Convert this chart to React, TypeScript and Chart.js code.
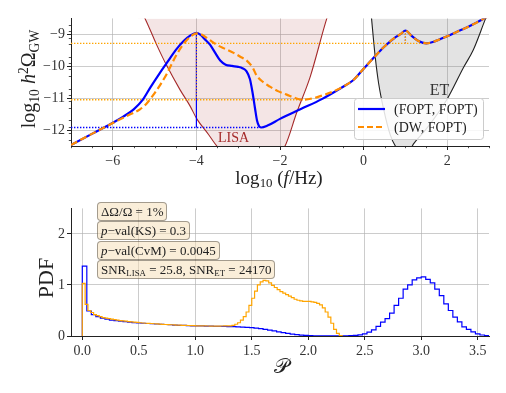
import React, { useEffect, useRef } from "react";
import { Chart, registerables } from "chart.js";
Chart.register(...registerables);

const FONT = "'Liberation Serif', 'DejaVu Serif', serif";
const BLUE = "#0000ff";
const ORANGE = "#ffa500";
const ORANGE_DASH = "#ff8c00";
const BROWN = "#a52a2a";

// ---------- top panel: log10(f/Hz) vs log10 h^2 Omega_GW ----------
const foptLogF = [-7, -6.5, -6, -5.75, -5.5, -5.3, -5.1, -4.9, -4.7, -4.5, -4.3, -4.15, -4, -3.9, -3.8, -3.67, -3.55, -3.43, -3.3, -3.15, -3, -2.9, -2.8, -2.72, -2.66, -2.6, -2.55, -2.5, -2.45, -2.3, -2, -1.5, -1, -0.5, -0.25, 0, 0.25, 0.5, 0.75, 0.9, 1, 1.15, 1.3, 1.5, 1.7, 2, 2.3, 2.6, 3];
const foptLogOmega = [-12.47, -12.12, -11.77, -11.58, -11.35, -11.08, -10.66, -10.26, -9.88, -9.5, -9.2, -9.04, -8.95, -9.02, -9.15, -9.33, -9.58, -9.82, -9.95, -9.99, -10.02, -10.06, -10.16, -10.4, -10.8, -11.3, -11.7, -11.88, -11.92, -11.86, -11.65, -11.34, -11.03, -10.65, -10.44, -10.08, -9.72, -9.38, -9.1, -8.98, -8.88, -9.05, -9.2, -9.28, -9.22, -9.06, -8.88, -8.7, -8.42];

const dwLogF = [-7, -6.5, -6, -5.7, -5.35, -5.2, -5.03, -4.85, -4.71, -4.6, -4.47, -4.35, -4.23, -4.1, -4, -3.9, -3.7, -3.51, -3.3, -3.11, -2.95, -2.79, -2.65, -2.56, -2.4, -2.24, -2.05, -1.84, -1.65, -1.45, -1.2, -1, -0.72, -0.5, -0.25, 0, 0.25, 0.5, 0.75, 0.9, 1, 1.15, 1.3, 1.5, 1.7, 2, 2.3, 2.6, 3];
const dwLogOmega = [-12.47, -12.12, -11.78, -11.58, -11.35, -11.18, -10.9, -10.55, -10.24, -9.95, -9.63, -9.38, -9.18, -9.03, -8.97, -8.99, -9.16, -9.33, -9.46, -9.58, -9.7, -9.83, -10.05, -10.29, -10.5, -10.64, -10.78, -10.89, -10.99, -11.05, -11.0, -10.92, -10.79, -10.65, -10.44, -10.08, -9.72, -9.38, -9.1, -8.98, -8.88, -9.05, -9.2, -9.28, -9.22, -9.06, -8.88, -8.7, -8.42];

const lisaLogF = [-5.4, -5.23, -4.95, -4.71, -4.39, -4.15, -3.99, -3.71, -3.51, -3.2, -2.8, -2.4, -2.1, -1.88, -1.6, -1.28, -0.88, -0.8];
const lisaLogOmega = [-8.1, -8.5, -9.33, -9.98, -10.74, -11.25, -11.65, -12.14, -12.5, -12.85, -13.0, -12.95, -12.8, -12.5, -11.45, -10.34, -8.5, -8.2];

const etLogF = [0.17, 0.19, 0.28, 0.36, 0.48, 0.64, 0.76, 0.95, 1.05, 1.19, 1.51, 1.99, 2.39, 2.62, 2.92, 3.0];
const etLogOmega = [-8.2, -8.5, -9.73, -10.54, -11.35, -12.16, -12.5, -12.75, -12.75, -12.44, -11.95, -11.05, -10.04, -9.5, -8.5, -8.25];

// peak / trough markers: [logf, logOmega]
const foptPeakA = [-4, -8.95];
const foptTroughA = [-2.47, -11.92];
const dwPeakA = [-4, -8.97];
const dwTroughA = [-1.45, -11.05];
const peakB = [1.0, -8.88];
const troughB = [1.5, -9.28];

const topXRange = [-7, 3];
const topYRange = [-12.5, -8.5];
const topXTicks = [-6, -4, -2, 0, 2];
const topYTicks = [-12, -11, -10, -9];

// ---------- bottom panel: histograms ----------
const foptBinWidth = 0.04;
const foptHist = [1.37, 0.49, 0.42, 0.38, 0.35, 0.33, 0.31, 0.3, 0.29, 0.28, 0.27, 0.26, 0.255, 0.25, 0.245, 0.24, 0.235, 0.23, 0.225, 0.22, 0.215, 0.21, 0.21, 0.205, 0.2, 0.2, 0.2, 0.195, 0.195, 0.19, 0.19, 0.19, 0.185, 0.185, 0.18, 0.175, 0.17, 0.165, 0.155, 0.145, 0.13, 0.115, 0.1, 0.08, 0.065, 0.05, 0.035, 0.025, 0.018, 0.012, 0.008, 0.005, 0.003, 0.002, 0.001, 0.001, 0.001, 0.002, 0.004, 0.007, 0.012, 0.022, 0.04, 0.075, 0.12, 0.19, 0.27, 0.34, 0.45, 0.6, 0.74, 0.92, 1.0, 1.1, 1.14, 1.16, 1.11, 1.04, 0.92, 0.79, 0.63, 0.5, 0.37, 0.275, 0.18, 0.13, 0.08, 0.04, 0.02, 0.01];

const dwBinWidth = 0.025;
const dwHist = [1.03, 0.62, 0.5, 0.46, 0.42, 0.4, 0.38, 0.36, 0.35, 0.34, 0.33, 0.32, 0.31, 0.3, 0.295, 0.29, 0.28, 0.275, 0.27, 0.265, 0.26, 0.255, 0.25, 0.248, 0.245, 0.24, 0.236, 0.232, 0.228, 0.225, 0.222, 0.22, 0.217, 0.215, 0.212, 0.21, 0.208, 0.206, 0.204, 0.202, 0.2, 0.2, 0.198, 0.197, 0.196, 0.195, 0.195, 0.194, 0.195, 0.196, 0.198, 0.2, 0.2, 0.21, 0.23, 0.26, 0.31, 0.38, 0.47, 0.6, 0.74, 0.88, 1.0, 1.06, 1.09, 1.08, 1.04, 0.99, 0.95, 0.91, 0.87, 0.84, 0.81, 0.78, 0.75, 0.72, 0.7, 0.69, 0.68, 0.68, 0.68, 0.67, 0.66, 0.64, 0.61, 0.55, 0.47, 0.37, 0.25, 0.13, 0.05, 0.01];

const botXRange = [-0.1, 3.6];
const botYRange = [0, 2.5];
const botXTicks = [0, 0.5, 1, 1.5, 2, 2.5, 3, 3.5];
const botYTicks = [0, 1, 2];

// ---------- helpers ----------
const pts = (xs: number[], ys: number[]) => xs.map((x, i) => ({ x, y: ys[i] }));
const histPts = (vals: number[], w: number) => {
  const out = [{ x: 0, y: 0 }];
  vals.forEach((v, i) => out.push({ x: i * w, y: v }));
  out.push({ x: vals.length * w, y: 0 });
  return out;
};
const seg = (a: number[], b: number[], color: string, dash: number[], width = 1.3) => ({
  data: [{ x: a[0], y: a[1] }, { x: b[0], y: b[1] }],
  borderColor: color,
  borderWidth: width,
  borderDash: dash,
  pointRadius: 0,
  fill: false,
  tension: 0,
});
const minus = (v: number) => (v < 0 ? "\u2212" + Math.abs(v) : String(v));

const gridOpts = {
  color: "rgba(176,176,176,0.65)",
  lineWidth: 1,
  tickColor: "#222",
  tickLength: 4,
  drawTicks: true,
};
const borderOpts = { display: true, color: "#222", width: 1 };
const tickFont = { family: FONT, size: 14 };

const topDecor = {
  id: "topDecor",
  afterDraw(chart: any) {
    const { ctx, chartArea } = chart;
    const xs = chart.scales.x;
    const ys = chart.scales.y;
    ctx.save();
    ctx.strokeStyle = "#222";
    ctx.lineWidth = 0.8;
    for (let k = 0; k <= 20; k++) {
      const v = topXRange[0] + k * 0.5;
      if (topXTicks.includes(v)) continue;
      const px = Math.round(xs.getPixelForValue(v)) + 0.5;
      ctx.beginPath();
      ctx.moveTo(px, chartArea.bottom);
      ctx.lineTo(px, chartArea.bottom + 2.2);
      ctx.stroke();
    }
    for (let k = 1; k < 20; k++) {
      if (k % 5 === 0) continue;
      const v = topYRange[0] + k * 0.2;
      const py = Math.round(ys.getPixelForValue(v)) + 0.5;
      ctx.beginPath();
      ctx.moveTo(chartArea.left, py);
      ctx.lineTo(chartArea.left - 2.2, py);
      ctx.stroke();
    }
    // legend
    const lx = 346, ly = 90, lw = 129, lh = 41;
    ctx.beginPath();
    ctx.roundRect(lx + 0.5, ly + 0.5, lw, lh, 3);
    ctx.fillStyle = "rgba(255,255,255,0.85)";
    ctx.fill();
    ctx.strokeStyle = "#cccccc";
    ctx.lineWidth = 1;
    ctx.stroke();
    const rows = [
      { label: "(FOPT, FOPT)", color: BLUE, dash: [] as number[], y: ly + 11 },
      { label: "(DW, FOPT)", color: ORANGE_DASH, dash: [6, 3], y: ly + 29 },
    ];
    rows.forEach((r) => {
      ctx.beginPath();
      ctx.setLineDash(r.dash);
      ctx.strokeStyle = r.color;
      ctx.lineWidth = 2.2;
      ctx.moveTo(lx + 4, r.y);
      ctx.lineTo(lx + 31, r.y);
      ctx.stroke();
      ctx.setLineDash([]);
      ctx.fillStyle = "#222";
      ctx.font = `14px ${FONT}`;
      ctx.textBaseline = "middle";
      ctx.fillText(r.label, lx + 40, r.y + 1);
    });
    ctx.restore();
  },
};

function topConfig(): any {
  return {
    type: "line",
    data: {
      datasets: [
        { data: pts(dwLogF, dwLogOmega), borderColor: ORANGE_DASH, borderWidth: 2.2, borderDash: [7, 3.5], pointRadius: 0, cubicInterpolationMode: "monotone", fill: false },
        { data: pts(foptLogF, foptLogOmega), borderColor: BLUE, borderWidth: 2.2, pointRadius: 0, cubicInterpolationMode: "monotone", fill: false },
        seg(dwPeakA, [dwPeakA[0], dwTroughA[1]], ORANGE, [1.4, 1.6]),
        seg(peakB, [peakB[0], troughB[1]], ORANGE, [1.4, 1.6]),
        seg([topXRange[0], dwTroughA[1]], dwTroughA, ORANGE, [1.4, 1.6]),
        seg([topXRange[0], troughB[1]], troughB, ORANGE, [1.4, 1.6]),
        seg(foptPeakA, [foptPeakA[0], foptTroughA[1]], BLUE, [], 1.2),
        seg([topXRange[0], foptTroughA[1]], foptTroughA, BLUE, [1.4, 1.6]),
        seg(peakB, [peakB[0], troughB[1]], BLUE, [1.4, 1.6]),
        { data: pts(lisaLogF, lisaLogOmega), borderColor: BROWN, borderWidth: 1.1, pointRadius: 0, cubicInterpolationMode: "monotone", fill: "end", backgroundColor: "rgba(165,42,42,0.12)" },
        { data: pts(etLogF, etLogOmega), borderColor: "#222", borderWidth: 1.1, pointRadius: 0, cubicInterpolationMode: "monotone", fill: "end", backgroundColor: "rgba(128,128,128,0.22)" },
      ],
    },
    options: {
      responsive: false,
      animation: false,
      devicePixelRatio: 1,
      events: [],
      layout: { padding: { left: 0, right: 9, top: 8, bottom: 0 } },
      plugins: { legend: { display: false }, tooltip: { enabled: false } },
      scales: {
        x: {
          type: "linear",
          min: topXRange[0],
          max: topXRange[1],
          afterBuildTicks: (s: any) => { s.ticks = topXTicks.map((v) => ({ value: v })); },
          afterFit: (s: any) => { s.height = 52; },
          grid: gridOpts,
          border: borderOpts,
          ticks: { font: tickFont, color: "#333", padding: 3, maxRotation: 0, autoSkip: false, callback: (v: number) => minus(v) },
        },
        y: {
          type: "linear",
          min: topYRange[0],
          max: topYRange[1],
          afterBuildTicks: (s: any) => { s.ticks = topYTicks.map((v) => ({ value: v })); },
          afterFit: (s: any) => { s.width = 63; },
          grid: gridOpts,
          border: borderOpts,
          ticks: { font: tickFont, color: "#333", padding: 2, autoSkip: false, callback: (v: number) => minus(v) },
        },
      },
    },
    plugins: [topDecor],
  };
}

function botConfig(): any {
  return {
    type: "line",
    data: {
      datasets: [
        { data: histPts(dwHist, dwBinWidth), borderColor: ORANGE, borderWidth: 1.2, stepped: "before", pointRadius: 0, fill: false },
        { data: histPts(foptHist, foptBinWidth), borderColor: BLUE, borderWidth: 1.2, stepped: "before", pointRadius: 0, fill: false },
      ],
    },
    options: {
      responsive: false,
      animation: false,
      devicePixelRatio: 1,
      events: [],
      layout: { padding: { left: 0, right: 9, top: 8, bottom: 0 } },
      plugins: { legend: { display: false }, tooltip: { enabled: false } },
      scales: {
        x: {
          type: "linear",
          min: botXRange[0],
          max: botXRange[1],
          afterBuildTicks: (s: any) => { s.ticks = botXTicks.map((v) => ({ value: v })); },
          afterFit: (s: any) => { s.height = 49; },
          grid: gridOpts,
          border: borderOpts,
          ticks: { font: tickFont, color: "#333", padding: 3, maxRotation: 0, autoSkip: false, callback: (v: number) => v.toFixed(1) },
        },
        y: {
          type: "linear",
          min: botYRange[0],
          max: botYRange[1],
          afterBuildTicks: (s: any) => { s.ticks = botYTicks.map((v) => ({ value: v })); },
          afterFit: (s: any) => { s.width = 63; },
          grid: gridOpts,
          border: borderOpts,
          ticks: { font: tickFont, color: "#333", padding: 2, autoSkip: false, callback: (v: number) => String(v) },
        },
      },
    },
  };
}

const subStyle: React.CSSProperties = { fontSize: "0.68em", verticalAlign: "-0.28em", lineHeight: 0 };
const supStyle: React.CSSProperties = { fontSize: "0.68em", verticalAlign: "0.5em", lineHeight: 0 };

const abs = (left: number, top: number, extra: React.CSSProperties = {}): React.CSSProperties => ({
  position: "absolute",
  left,
  top,
  transform: "translate(-50%,-50%)",
  whiteSpace: "nowrap",
  lineHeight: 1,
  color: "#222",
  ...extra,
});

const boxStyle = (top: number): React.CSSProperties => ({
  position: "absolute",
  left: 89,
  top,
  height: 17,
  lineHeight: "17px",
  padding: "0 3px",
  fontSize: 13,
  whiteSpace: "nowrap",
  color: "#222",
  background: "rgba(245,222,179,0.5)",
  border: "1px solid rgba(0,0,0,0.35)",
  borderRadius: 4,
});

export default function App() {
  const topRef = useRef<HTMLCanvasElement>(null);
  const botRef = useRef<HTMLCanvasElement>(null);
  useEffect(() => {
    const top = new Chart(topRef.current as HTMLCanvasElement, topConfig());
    const bot = new Chart(botRef.current as HTMLCanvasElement, botConfig());
    return () => {
      top.destroy();
      bot.destroy();
    };
  }, []);
  return (
    <div style={{ position: "relative", width: 490, height: 377, fontFamily: FONT }}>
      <canvas ref={topRef} width={490} height={190} style={{ position: "absolute", left: 0, top: 0, width: 490, height: 190 }} />
      <canvas ref={botRef} width={490} height={187} style={{ position: "absolute", left: 0, top: 190, width: 490, height: 187 }} />

      <div style={abs(19.5, 71, { fontSize: 20, transform: "translate(-50%,-50%) rotate(-90deg)" })}>
        log<span style={subStyle}>10</span> <i>h</i><span style={supStyle}>2</span>Ω<span style={subStyle}>GW</span>
      </div>
      <div style={abs(271, 169, { fontSize: 19 })}>
        log<span style={subStyle}>10</span> (<i>f</i>/Hz)
      </div>
      <div style={abs(225.5, 130, { fontSize: 14, color: BROWN })}>LISA</div>
      <div style={abs(431.5, 82, { fontSize: 16, color: "#333" })}>ET</div>

      <div style={abs(37.5, 270, { fontSize: 22, transform: "translate(-50%,-50%) rotate(-90deg)" })}>PDF</div>
      <div style={abs(273, 358, { fontSize: 21 })}>𝒫</div>

      <div style={boxStyle(194)}>ΔΩ/Ω = 1%</div>
      <div style={boxStyle(213)}><i>p</i>−val(KS) = 0.3</div>
      <div style={boxStyle(232.5)}><i>p</i>−val(CvM) = 0.0045</div>
      <div style={boxStyle(252)}>
        SNR<span style={subStyle}>LISA</span> = 25.8, SNR<span style={subStyle}>ET</span> = 24170
      </div>
    </div>
  );
}
